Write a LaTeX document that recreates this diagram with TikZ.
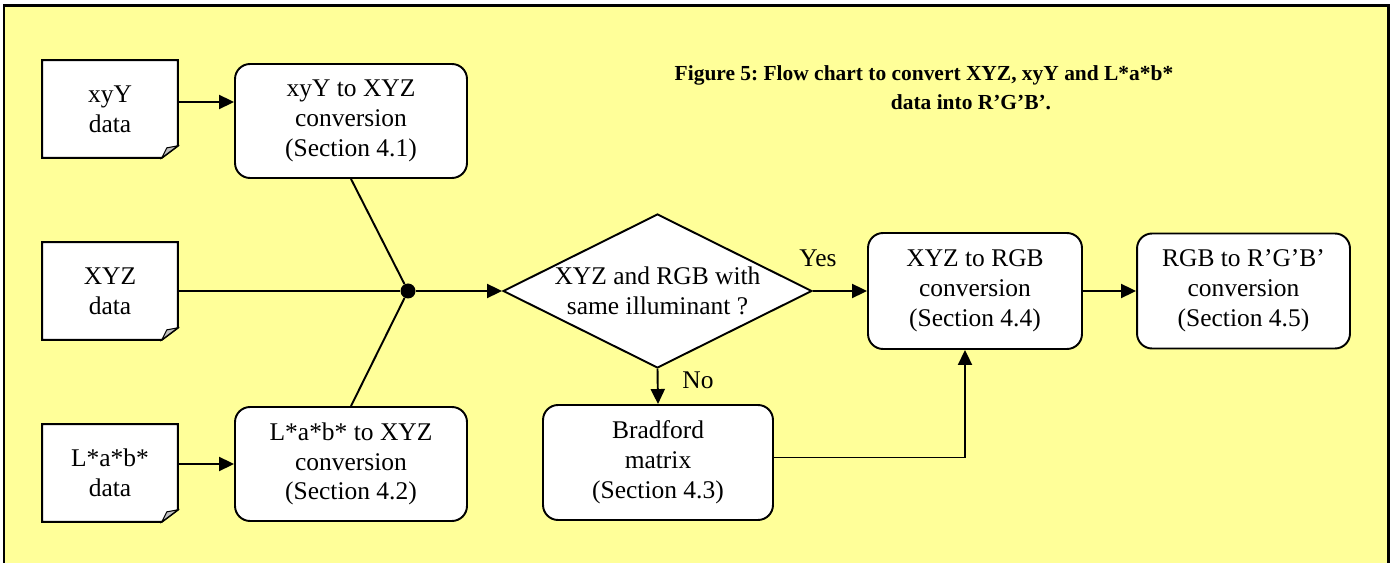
\documentclass[tikz,border=0pt]{standalone}
\usepackage{fontspec}
\setmainfont{Liberation Serif}
\usetikzlibrary{shapes.geometric,arrows.meta,backgrounds}
\frenchspacing

\definecolor{paper}{HTML}{FFFF99}
\definecolor{foldgray}{HTML}{C0C0C0}

\tikzset{
  boxfont/.style={font=\fontsize{14.5}{17}\selectfont},
  datadoc/.style={boxfont,minimum width=2.7cm,minimum height=1.94cm,align=center,inner sep=0pt},
  procbox/.style={boxfont,draw,fill=white,rounded corners=0.3cm,line width=1.1pt,align=center,inner sep=0pt},
  decision/.style={boxfont,diamond,draw,fill=white,line width=1.1pt,aspect=2,inner sep=-4pt,align=center},
  flowline/.style={line width=1.1pt},
  flowarrow/.style={line width=1.1pt,-{Triangle[length=0.3cm,width=0.28cm]}},
}

\begin{document}
\begin{tikzpicture}[x=0.02cm,y=-0.02cm]
        \useasboundingbox (0,0) rectangle (1393,563);
        \begin{scope}[on background layer]
          \fill[paper] (4,6) rectangle (1388,563);
          \draw[line width=1.7pt] (4,575) -- (4,6) -- (1388,6) -- (1388,575);
        \end{scope}

        % title
        \node[font=\bfseries\fontsize{12.2}{16.4}\selectfont,align=center] (caption) at (924,88)
          {Figure 5: Flow chart to convert XYZ, xyY and L*a*b*\\\hspace*{1.88cm}data into R’G’B’.};

        % input data
        \node[datadoc] (xydata) at (110,109) {xyY\\data};
        \node[datadoc] (xyzdata) at (110,291) {XYZ\\data};
        \node[datadoc] (labdata) at (110,473) {L*a*b*\\data};

        % conversions
        \node[procbox,minimum width=4.64cm,minimum height=2.28cm] (xyconv) at (351,121) {xyY to XYZ\\conversion\\(Section 4.1)};
        \node[procbox,minimum width=4.64cm,minimum height=2.28cm] (labconv) at (351,464) {L*a*b* to XYZ\\conversion\\(Section 4.2)};
        \node[circle,fill,inner sep=0pt,minimum size=0.3cm] (junction) at (408,291) {};
        \node[decision,minimum width=6.18cm,minimum height=3.08cm] (illum) at (657.5,291) {XYZ and RGB with\\same illuminant ?};
        \node[procbox,minimum width=4.6cm,minimum height=2.3cm] (bradford) at (658,462.5) {Bradford\\matrix\\(Section 4.3)};
        \node[procbox,minimum width=4.28cm,minimum height=2.32cm] (xyzrgb) at (975,291) {XYZ to RGB\\conversion\\(Section 4.4)};
        \node[procbox,minimum width=4.26cm,minimum height=2.3cm] (rgbprime) at (1243.5,291) {RGB to R’G’B’\\conversion\\(Section 4.5)};

        \node[boxfont] (yeslabel) at (818,258) {Yes};
        \node[boxfont] (nolabel) at (698,380) {No};

        \draw[flowarrow] ([yshift=0.14cm]xydata.east) -- ([yshift=0.14cm]xydata.east -| xyconv.west);
        \draw[flowarrow] (labdata.east |- labconv.west) -- (labconv.west);
        \draw[flowline] (xyzdata.east) -- (junction);
        \draw[flowline] (xyconv.south) -- (junction);
        \draw[flowline] (labconv.north) -- (junction);
        \draw[flowarrow] (junction) -- (illum.west);
        \draw[flowarrow] (illum.east) -- (xyzrgb.west);
        \draw[flowarrow] (xyzrgb.east) -- (rgbprime.west);
        \draw[flowarrow] (illum.south) -- (bradford.north);
        \draw[flowarrow] ([yshift=0.1cm]bradford.east) -| ([xshift=-0.2cm]xyzrgb.south);

        % page shapes with folded corner
        \begin{scope}[on background layer]
          \foreach \d in {xydata,xyzdata,labdata} {
            \draw[flowline,fill=white] (\d.north west) -- (\d.north east) -- ([yshift=0.24cm]\d.south east)
              -- ([xshift=-0.32cm]\d.south east) -- (\d.south west) -- cycle;
            \draw[line width=0.6pt,fill=foldgray] ([yshift=0.24cm]\d.south east) -- ([xshift=-0.22cm,yshift=0.2cm]\d.south east)
              -- ([xshift=-0.32cm]\d.south east) -- cycle;
          }
        \end{scope}
\end{tikzpicture}
\end{document}
